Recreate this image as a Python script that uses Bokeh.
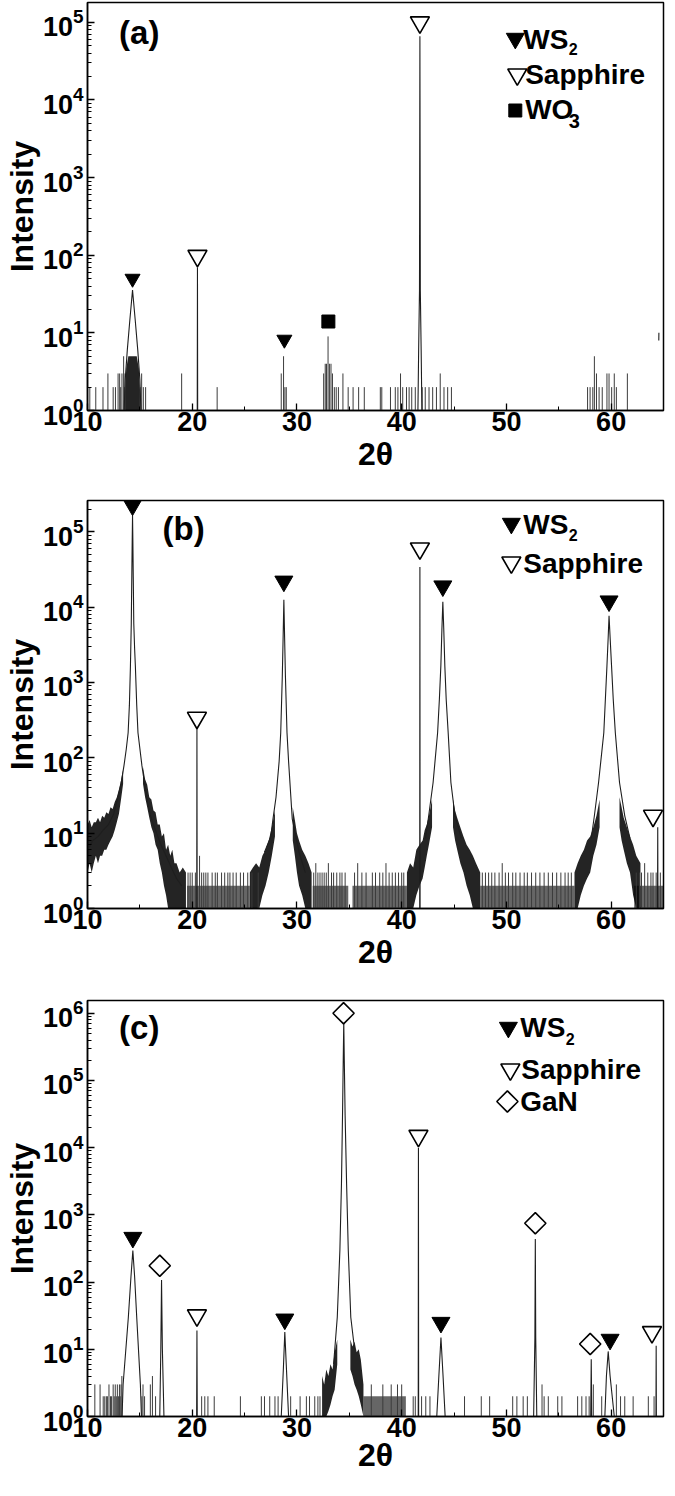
import math
from bokeh.plotting import figure
from bokeh.layouts import column
from bokeh.models import Range1d, Label, FixedTicker
from bokeh.embed import file_html
from bokeh.resources import INLINE

NAN = float("nan")
FONT = "Liberation Sans"

# ---------------- shared axis data ----------------
x_ticks = [10, 20, 30, 40, 50, 60]
x_minor = [15, 25, 35, 45, 55]

# ---------------- panel (a) ----------------
a_line_x = [13.5, 13.6, 13.8, 14.05, 14.3, 14.55, 14.8, 15.0, 15.1, NAN,
            20.48, 20.5, 20.52, NAN,
            41.55, 41.62, 41.7, 41.74, 41.78, 41.86, 41.93, NAN,
            64.55, 64.56]
a_line_y = [1, 2.5, 6, 15, 35.5, 15, 6, 2.5, 1, NAN,
            1, 70, 1, NAN,
            1, 6, 35, 6.6e4, 35, 6, 1, NAN,
            8, 10]
a_bands = [
    ([13.55, 13.7, 13.9, 14.1, 14.5, 14.7, 14.9, 15.05], [1, 1, 1, 1, 1, 1, 1, 1], [1.5, 3.5, 5, 5, 5, 5, 3.5, 1.5]),
]
a_noise_x = [10.22, 10.79, 11.48, 11.95, 12.45, 12.67, 12.92, 13.07, 13.17, 13.29, 13.45, 13.52,
             13.58, 15.02, 15.17, 15.33, 15.55, 18.99, 22.38, 28.5, 28.72, 28.85, 28.98, 32.55,
             32.7, 32.82, 32.97, 33.1, 33.25, 33.39, 33.57, 33.75, 33.96, 34.39, 34.89, 35.36,
             35.89, 36.43, 37.96, 38.1, 38.93, 39.39, 39.64, 39.89, 40.1, 40.46, 40.71, 40.96,
             41.3, 41.96, 42.25, 42.61, 42.96, 43.32, 43.68, 44.04, 44.39, 44.75, 57.75, 57.99,
             58.25, 58.4, 58.6, 58.85, 59.15, 59.6, 59.8, 60.05, 60.3, 60.5, 61.55]
a_noise_h = [2, 2, 2, 3, 2, 2, 3, 3, 2, 3, 5, 2,
             3, 2, 3, 2, 2, 3, 2, 3, 5, 2, 2, 3,
             4, 4, 9, 4, 4, 3, 2, 2, 2, 3, 2, 2,
             2, 2, 2, 2, 2, 2, 2, 3, 2, 2, 2, 2,
             2, 2, 2, 2, 2, 2, 3, 2, 2, 2, 2, 2,
             2, 5, 3, 2, 2, 3, 3, 2, 3, 2, 3]
a_ws2_x, a_ws2_y = [14.3, 28.8], [50, 8.2]
a_sap_x, a_sap_y = [20.5, 41.74], [98, 1.0e5]
a_wo3_x, a_wo3_y = [33.0], [14]

# ---------------- panel (b) ----------------
b_line_x = [10.0, 10.5, 11.0, 11.5, 12.0, 12.5, 12.85, 13.2, 13.48, 13.7, 13.88, 14.0, 14.1, 14.18,
            14.23, 14.27, 14.3, 14.33, 14.37, 14.42, 14.5, 14.57, 14.7, 14.82, 15.2, 15.67, 16.0,
            16.6, 17.05, 17.5, 18.0, 18.5, 19.0, NAN,
            20.43, 20.45, 20.47, NAN,
            26.9, 27.5, 27.7, 28.0, 28.3, 28.45, 28.6, 28.68, 28.75, 28.82, 28.9, 29.05, 29.2,
            29.55, 30.2, 30.8, NAN,
            41.72, 41.74, 41.76, NAN,
            42.27, 42.58, 43.0, 43.43, 43.6, 43.74, 43.84, 43.93, 44.02, 44.12, 44.25, 44.44,
            44.7, 45.09, 45.7, NAN,
            58.1, 58.4, 58.8, 59.3, 59.45, 59.6, 59.72, 59.8, 59.9, 60.04, 60.2, 60.4, 60.8,
            61.3, 61.8, NAN,
            64.43, 64.45, 64.47]
b_line_y = [6, 8, 9, 11, 13, 18, 28, 45, 78, 130, 215, 500, 1660, 6000,
            2.5e4, 8e4, 1.66e5, 8e4, 2.5e4, 6000, 2800, 1660, 500, 215, 78, 28, 17,
            10, 6.8, 5, 3.5, 2.5, 2, NAN,
            1, 245, 1, NAN,
            5.6, 9, 15, 30, 90, 215, 1200, 4000, 1.25e4, 4000, 1200, 215, 90,
            15.5, 5.6, 3, NAN,
            1, 3.4e4, 1, NAN,
            8.5, 17, 47, 215, 600, 1660, 5000, 1.18e4, 5000, 1660, 600, 215,
            47, 17, 8.5, NAN,
            8.5, 17, 47, 215, 600, 1660, 4000, 7.7e3, 4000, 1660, 600, 215, 47,
            17, 8.5, NAN,
            1, 12, 1]
# noisy envelopes around the peak tails: (x, low, high)
b_bands = [
    ([10.0, 10.2, 10.4, 10.6, 10.8, 11.0, 11.2, 11.4, 11.6, 11.8, 12.0, 12.2, 12.4, 12.6, 12.8, 13.0, 13.2, 13.4],
     [3, 4, 3, 4, 5, 4, 5, 5, 6, 6, 7, 8, 9, 11, 14, 18, 28, 45],
     [13, 15, 12, 14, 14, 16, 14, 17, 16, 19, 18, 22, 21, 26, 30, 38, 50, 70]),
    ([15.3, 15.5, 15.7, 15.9, 16.1, 16.3, 16.5, 16.7, 16.9, 17.1, 17.3, 17.5, 17.7, 17.9, 18.1, 18.3, 18.5, 18.8, 19.1, 19.4],
     [45, 30, 22, 16, 12, 10, 7, 6, 4, 3, 2, 1.5, 1, 1, 1, 1, 1, 1, 1, 1],
     [75, 52, 44, 30, 28, 20, 19, 13, 13, 9, 10, 6, 7, 5, 6, 4, 4, 3, 3.5, 3]),
    ([25.5, 25.8, 26.1, 26.4, 26.7, 27.0, 27.3, 27.6, 27.9],
     [1, 1, 1, 1, 1.5, 2, 3, 5, 9],
     [3, 3.5, 4, 3.5, 5, 6, 8, 12, 20]),
    ([29.6, 29.8, 30.0, 30.2, 30.5, 30.8, 31.1, 31.4],
     [8, 5, 3, 2, 1.5, 1, 1, 1],
     [22, 15, 10, 8, 6, 5, 4, 3]),
    ([40.5, 40.8, 41.1, 41.4, 41.7, 42.0, 42.2, 42.4, 42.6, 42.9],
     [1, 1, 1, 1.5, 2, 2.5, 3.5, 5, 7, 12],
     [3, 4, 3.5, 6, 7, 8, 11, 13, 17, 28]),
    ([44.9, 45.1, 45.3, 45.6, 45.9, 46.2, 46.5, 46.8, 47.1, 47.5],
     [12, 8, 6, 4, 3, 2, 1.5, 1, 1, 1],
     [28, 20, 16, 12, 9, 7, 6, 5, 4, 3]),
    ([56.5, 56.8, 57.1, 57.4, 57.7, 58.0, 58.3, 58.6, 58.9],
     [1, 1, 1.5, 2, 2.5, 3, 5, 7, 12],
     [3, 4, 5, 6, 8, 9, 12, 17, 28]),
    ([60.8, 61.0, 61.2, 61.5, 61.8, 62.1, 62.4, 62.8],
     [12, 8, 6, 4, 3, 1.5, 1, 1],
     [30, 22, 16, 12, 9, 7, 5, 4]),
]
# dense background counts (0-2) between the peaks
b_comb_left = [19.5, 31.5, 35.3, 47.5, 62.2]
b_comb_right = [25.5, 34.9, 40.5, 56.5, 65.0]
b_comb_top = [2, 2, 2, 2, 2]
b_noise_x = [19.6, 19.8, 20.0, 20.3, 20.7, 20.9, 21.1, 21.3, 21.5, 21.9, 22.2, 22.4, 22.8, 23.1,
             23.4, 23.6, 23.9, 24.2, 24.6, 24.9, 25.3, 25.7, 26.3, 31.6, 31.8, 32.0, 32.2, 32.4,
             32.6, 32.8, 33.0, 33.3, 33.5, 33.8, 34.1, 34.3, 34.6, 35.5, 35.8, 36.2, 36.6, 37.2,
             37.5, 37.9, 38.2, 38.5, 38.8, 39.1, 39.4, 39.7, 40.0, 40.2, 47.7, 48.0, 48.3, 48.6,
             48.9, 49.3, 49.6, 49.9, 50.2, 50.6, 50.9, 51.3, 51.7, 52.0, 52.4, 52.8, 53.2, 53.6,
             54.0, 54.4, 54.8, 55.2, 55.6, 55.9, 56.2, 62.4, 62.7, 62.9, 63.2, 63.5, 63.8, 64.0,
             64.3, 64.7]
b_noise_h = [3, 3, 3, 3, 5, 3, 3, 3, 3, 3, 3, 3, 3, 3,
             3, 3, 3, 3, 3, 3, 3, 3, 3, 3, 4, 3, 3, 3,
             3, 3, 4, 3, 3, 3, 3, 3, 3, 3, 4, 3, 3, 3,
             3, 3, 3, 4, 3, 3, 3, 3, 3, 3, 3, 3, 3, 3,
             3, 3, 4, 3, 3, 3, 3, 3, 3, 3, 3, 3, 3, 3,
             3, 3, 3, 3, 3, 3, 3, 3, 3, 3, 4, 3, 3, 3,
             3, 3]
b_ws2_x, b_ws2_y = [14.3, 28.75, 43.93, 59.8], [2.25e5, 2.2e4, 1.9e4, 1.2e4]
b_sap_x, b_sap_y = [20.45, 41.74, 64.0], [340, 6.0e4, 17]

# ---------------- panel (c) ----------------
c_line_x = [13.3, 13.4, 13.9, 14.15, 14.33, 14.5, 14.7, 15.05, 15.15, NAN,
            16.9, 17.0, 17.07, 17.15, 17.3, NAN,
            20.42, 20.45, 20.48, NAN,
            28.5, 28.7, 28.84, 29.0, 29.2, NAN,
            33.5, 33.85, 34.1, 34.25, 34.35, 34.42, 34.47, 34.52, 34.6, 34.74, 34.9, 35.14, 35.5, NAN,
            41.58, 41.6, 41.62, NAN,
            43.35, 43.55, 43.75, 43.95, 44.15, NAN,
            52.6, 52.72, 52.76, 52.8, 52.9, NAN,
            58.05, 58.1, 58.15, NAN,
            59.4, 59.55, 59.72, 59.9, 60.3, NAN,
            64.28, 64.3, 64.32]
c_line_y = [1, 3, 30, 120, 295, 120, 30, 3, 1, NAN,
            1, 10, 107, 10, 1, NAN,
            1, 19, 1, NAN,
            1, 5, 18, 5, 1, NAN,
            6, 30, 300, 2900, 3e4, 2e5, 7.4e5, 2e5, 3e4, 2900, 300, 30, 10, NAN,
            1, 1.0e4, 1, NAN,
            1, 4, 15, 4, 1, NAN,
            1, 15, 437, 15, 1, NAN,
            1, 7.1, 1, NAN,
            1, 4, 9.3, 4, 1, NAN,
            1, 11.3, 1]
c_bands = [
    ([32.4, 32.6, 32.8, 33.0, 33.2, 33.4, 33.6, 33.85],
     [1, 1, 1, 1.2, 1.5, 2, 2.5, 6],
     [4, 3, 5, 4, 6, 5, 9, 14]),
    ([35.1, 35.3, 35.5, 35.7, 35.9, 36.1, 36.35],
     [5, 4, 3, 2.5, 2, 1.5, 1],
     [14, 11, 13, 9, 10, 7, 3]),
]
c_comb_left = [36.35]
c_comb_right = [40.4]
c_comb_top = [2]
c_noise_x = [10.7, 11.2, 11.5, 11.65, 11.8, 11.9, 12.05, 12.2, 12.3, 12.45, 12.55, 12.65, 12.75,
             12.85, 12.95, 13.05, 13.12, 13.2, 13.28, 15.2, 15.3, 15.45, 16.0, 16.2, 16.5, 20.9,
             21.2, 21.5, 22.1, 24.6, 26.6, 26.9, 27.4, 27.9, 28.2, 29.4, 30.3, 30.9, 31.2, 31.7,
             32.0, 32.2, 37.1, 38.2, 39.0, 39.6, 40.0, 41.1, 41.3, 41.9, 42.3, 42.7, 46.0, 47.6,
             48.4, 50.6, 51.0, 51.6, 52.0, 53.4, 53.6, 54.0, 54.9, 55.3, 56.8, 57.2, 57.6, 57.9,
             58.3, 59.1, 60.5, 60.9, 61.3, 62.1, 63.55, 64.1]
c_noise_h = [3, 3, 2, 2, 2, 2, 3, 2, 2, 3, 2, 3, 2,
             3, 2, 3, 2, 3, 4, 2, 3, 2, 3, 4, 2, 2,
             2, 2, 2, 2, 2, 2, 2, 2, 2, 2, 2, 2, 2, 2,
             2, 2, 3, 3, 3, 3, 3, 2, 2, 2, 2, 2, 2, 2,
             2, 2, 2, 2, 2, 3, 2, 2, 2, 2, 2, 2, 2, 2,
             3, 2, 3, 2, 2, 2, 2, 2]
c_ws2_x, c_ws2_y = [14.33, 28.84, 43.75, 59.9], [460, 28, 25, 14]
c_sap_x, c_sap_y = [20.45, 41.6, 63.9], [32, 1.5e4, 18]
c_gan_x, c_gan_y = [16.9, 34.45, 52.76, 58.0], [175, 1.0e6, 750, 12]

# ---------------- layout ----------------
W = 665
LEFT, RIGHT = 80, 2
FW = W - LEFT - RIGHT
LINE_COLOR = "#1e1e1e"
TICK_SIZE = "27px"
AXLAB_SIZE = "32px"
LEG_SIZE = "28px"
PANEL_SIZE = "33px"


def make_fig(frame_h, top_b, bottom_b, y_top, n_dec, lab_standoff):
    p = figure(width=W, height=top_b + frame_h + bottom_b,
               x_range=Range1d(10, 65), y_range=Range1d(1, y_top), y_axis_type="log",
               output_backend="svg", toolbar_location=None,
               min_border_left=LEFT, min_border_right=RIGHT,
               min_border_top=top_b, min_border_bottom=bottom_b,
               background_fill_color="white", border_fill_color="white")
    p.grid.visible = False
    p.outline_line_color = "black"
    p.outline_line_width = 1.5
    p.xaxis.ticker = FixedTicker(ticks=x_ticks, minor_ticks=x_minor)
    y_major = [10 ** k for k in range(n_dec + 1)]
    y_minor = [m * 10 ** k for k in range(n_dec + 1) for m in range(2, 10)]
    p.yaxis.ticker = FixedTicker(ticks=y_major, minor_ticks=y_minor)
    for ax in p.axis:
        ax.axis_line_width = 1.5
        ax.axis_line_color = "black"
        ax.major_tick_in = 7
        ax.major_tick_out = 0
        ax.minor_tick_in = 4
        ax.minor_tick_out = 0
        ax.major_tick_line_width = 1.3
        ax.minor_tick_line_width = 1
        ax.major_label_text_font = FONT
        ax.major_label_text_font_style = "bold"
        ax.major_label_text_font_size = TICK_SIZE
        ax.major_label_text_color = "black"
        ax.axis_label_text_font = FONT
        ax.axis_label_text_font_style = "bold"
        ax.axis_label_text_font_size = AXLAB_SIZE
        ax.axis_label_text_color = "black"
    p.xaxis.axis_label = "2θ"
    p.yaxis.axis_label = "Intensity"
    p.xaxis.major_label_standoff = 1
    p.xaxis.axis_label_standoff = lab_standoff
    p.yaxis.major_label_standoff = 4
    p.yaxis.axis_label_standoff = 0
    return p


def pos(rx, ry, frame_h, y_top):
    x = 10 + rx / FW * 55
    y = 10 ** (math.log10(y_top) * (1 - ry / frame_h))
    return x, y


def text(p, rx, ry, s, size, frame_h, y_top):
    x, y = pos(rx, ry, frame_h, y_top)
    p.add_layout(Label(x=x, y=y, text=s, text_font=FONT, text_font_size=size,
                       text_font_style="bold", text_color="black",
                       text_baseline="middle", text_align="left"))


def draw_marker(p, xs, ys, kind, big=True):
    if kind == "ws2":
        p.scatter(xs, ys, marker="inverted_triangle", size=18 if big else 15,
                  fill_color="black", line_color="black", line_width=1)
    elif kind == "sap":
        p.scatter(xs, ys, marker="inverted_triangle", size=19,
                  fill_color="white", line_color="black", line_width=1.6)
    elif kind == "wo3":
        p.scatter(xs, ys, marker="square", size=13,
                  fill_color="black", line_color="black", line_width=1)
    elif kind == "gan":
        p.scatter(xs, ys, marker="square", size=15, angle=45, angle_units="deg",
                  fill_color="white", line_color="black", line_width=1.6)


def marker(p, rx, ry, kind, frame_h, y_top):
    x, y = pos(rx, ry, frame_h, y_top)
    draw_marker(p, [x], [y], kind)


def draw_data(p, lx, ly, nx, nh, bands=(), comb=None):
    for bx, blo, bhi in bands:
        p.varea(x=bx, y1=blo, y2=bhi, fill_color="#000000", fill_alpha=0.86)
    if comb is not None:
        cl, cr, ct = comb
        p.quad(left=cl, right=cr, bottom=[1] * len(cl), top=ct,
               fill_color="#000000", fill_alpha=0.6, line_color=None)
    p.segment(x0=nx, y0=[1] * len(nx), x1=nx, y1=nh, line_color="#3c3c3c", line_width=1)
    p.line(lx, ly, line_color=LINE_COLOR, line_width=1.1)


# panel (a)
FHA, TOPA = 408, 2
YA = 1.8e5
pa = make_fig(FHA, TOPA, 84, YA, 5, 2)
draw_data(pa, a_line_x, a_line_y, a_noise_x, a_noise_h, a_bands)
draw_marker(pa, a_ws2_x, a_ws2_y, "ws2", big=False)
draw_marker(pa, a_sap_x, a_sap_y, "sap")
draw_marker(pa, a_wo3_x, a_wo3_y, "wo3")
text(pa, 32, 30, "(a)", PANEL_SIZE, FHA, YA)
marker(pa, 433, 36, "ws2", FHA, YA)
text(pa, 441, 37, "WS", LEG_SIZE, FHA, YA)
text(pa, 487, 46, "2", "16px", FHA, YA)
marker(pa, 435, 72, "sap", FHA, YA)
text(pa, 443, 72, "Sapphire", LEG_SIZE, FHA, YA)
marker(pa, 433, 108, "wo3", FHA, YA)
text(pa, 443, 107, "WO", LEG_SIZE, FHA, YA)
text(pa, 487, 118, "3", "20px", FHA, YA)

# panel (b)
FHB, TOPB = 408, 6
YB = 2.6e5
pb = make_fig(FHB, TOPB, 86, YB, 5, 2)
draw_data(pb, b_line_x, b_line_y, b_noise_x, b_noise_h, b_bands,
          (b_comb_left, b_comb_right, b_comb_top))
draw_marker(pb, b_ws2_x, b_ws2_y, "ws2")
draw_marker(pb, b_sap_x, b_sap_y, "sap")
text(pb, 76, 28, "(b)", PANEL_SIZE, FHB, YB)
marker(pb, 429, 23, "ws2", FHB, YB)
text(pb, 441, 24, "WS", LEG_SIZE, FHB, YB)
text(pb, 487, 34, "2", "16px", FHB, YB)
marker(pb, 429, 62, "sap", FHB, YB)
text(pb, 441, 63, "Sapphire", LEG_SIZE, FHB, YB)

# panel (c)
FHC, TOPC = 416, 6
YC = 1.55e6
pc = make_fig(FHC, TOPC, 64, YC, 6, -3)
draw_data(pc, c_line_x, c_line_y, c_noise_x, c_noise_h, c_bands,
          (c_comb_left, c_comb_right, c_comb_top))
draw_marker(pc, c_ws2_x, c_ws2_y, "ws2")
draw_marker(pc, c_sap_x, c_sap_y, "sap")
draw_marker(pc, c_gan_x, c_gan_y, "gan")
text(pc, 32, 27, "(c)", PANEL_SIZE, FHC, YC)
marker(pc, 426, 27, "ws2", FHC, YC)
text(pc, 438, 27, "WS", LEG_SIZE, FHC, YC)
text(pc, 484, 38, "2", "16px", FHC, YC)
marker(pc, 428, 69, "sap", FHC, YC)
text(pc, 439, 69, "Sapphire", LEG_SIZE, FHC, YC)
marker(pc, 425, 101, "gan", FHC, YC)
text(pc, 438, 101, "GaN", LEG_SIZE, FHC, YC)

layout = column(pa, pb, pc, spacing=0)
open("out.html", "w").write(file_html(layout, INLINE))
